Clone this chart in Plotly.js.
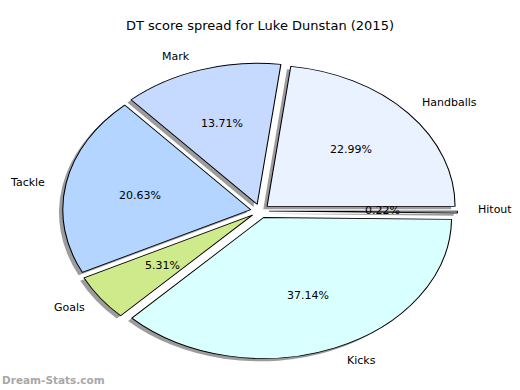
<!DOCTYPE html>
<html><head><meta charset="utf-8">
<script src="https://cdn.plot.ly/plotly-3.0.1.min.js"></script>
<style>html,body{margin:0;padding:0;background:#fff}#chart{width:520px;height:390px}</style>
</head><body><div id="chart"></div>
<script>
// ---- data ----
const categories = ['Hitout', 'Handballs', 'Mark', 'Tackle', 'Goals', 'Kicks'];
const values = [0.22, 22.99, 13.71, 20.63, 5.31, 37.14];
const colors = ['#f6f9ff', '#eaf1ff', '#c6d9ff', '#b3d5ff', '#cfea8b', '#d9ffff'];
const explode = [0.05, 0.05, 0.05, 0.05, 0.05, 0.05];
const chartTitle = 'DT score spread for Luke Dunstan (2015)';
const watermark = 'Dream-Stats.com';

// ---- layout geometry ----
const W = 520, H = 390;
const cx = 260, cy = 211, ry = 141, xScale = 4 / 3;
const rx = ry * xScale;
const maxPull = Math.max(...explode);
const half = ry * (1 + maxPull);
const dom = {x: [(cx - half) / W, (cx + half) / W], y: [1 - (cy + half) / H, 1 - (cy - half) / H]};
const sh = 0.02 * ry;
const shDom = {x: [dom.x[0] - sh / W, dom.x[1] - sh / W], y: [dom.y[0] - sh / H, dom.y[1] - sh / H]};
const FONT = 'DejaVu Sans, sans-serif';

const shadow = {
  type: 'pie', values: values, labels: categories, sort: false,
  direction: 'counterclockwise', rotation: 90, pull: explode,
  marker: {colors: values.map(() => '#9c9c9c'), line: {width: 0}},
  textinfo: 'none', hoverinfo: 'skip', showlegend: false, domain: shDom
};
const main = {
  type: 'pie', values: values, labels: categories, sort: false,
  direction: 'counterclockwise', rotation: 90, pull: explode,
  marker: {colors: colors, line: {color: '#000', width: 0.8}},
  textinfo: 'none', showlegend: false, domain: dom
};

const total = values.reduce((a, b) => a + b, 0);
const annotations = [];
let cum = 0;
values.forEach((v, i) => {
  const th = 2 * Math.PI * (cum + v / 2) / total;
  cum += v;
  const c = Math.cos(th), s = Math.sin(th);
  const ld = explode[i] + 1.1, pd = explode[i] + 0.6;
  annotations.push({
    xref: 'paper', yref: 'paper', showarrow: false,
    x: (cx + ld * rx * c) / W, y: 1 - (cy - ld * ry * s) / H,
    xanchor: c >= 0 ? 'left' : 'right', yanchor: 'middle',
    text: categories[i], font: {family: FONT, size: 11, color: '#000'}
  });
  annotations.push({
    xref: 'paper', yref: 'paper', showarrow: false,
    x: (cx + pd * rx * c) / W, y: 1 - (cy - pd * ry * s) / H,
    xanchor: 'center', yanchor: 'middle',
    text: (v / total * 100).toFixed(2) + '%', font: {family: FONT, size: 11, color: '#000'}
  });
});
annotations.push({
  xref: 'paper', yref: 'paper', showarrow: false, x: 0, y: 1 - 380 / H,
  xanchor: 'left', yanchor: 'middle', text: '<b>' + watermark + '</b>',
  font: {family: FONT, size: 10.5, color: '#a8a8a8'}
});

const layout = {
  width: W, height: H, margin: {l: 0, r: 0, t: 0, b: 0},
  paper_bgcolor: '#fff', plot_bgcolor: '#fff',
  title: {text: chartTitle, font: {family: FONT, size: 13, color: '#000'},
          x: 0.5, xanchor: 'center', y: 1 - 25 / H, yanchor: 'middle', xref: 'paper', yref: 'paper'},
  annotations: annotations, showlegend: false
};

Plotly.newPlot('chart', [shadow, main], layout, {staticPlot: true}).then(() => {
  const g = document.querySelector('#chart .pielayer');
  if (g) g.setAttribute('transform', `translate(${cx},${cy}) scale(${xScale},1) translate(${-cx},${-cy})`);
});
</script>
</body></html>
